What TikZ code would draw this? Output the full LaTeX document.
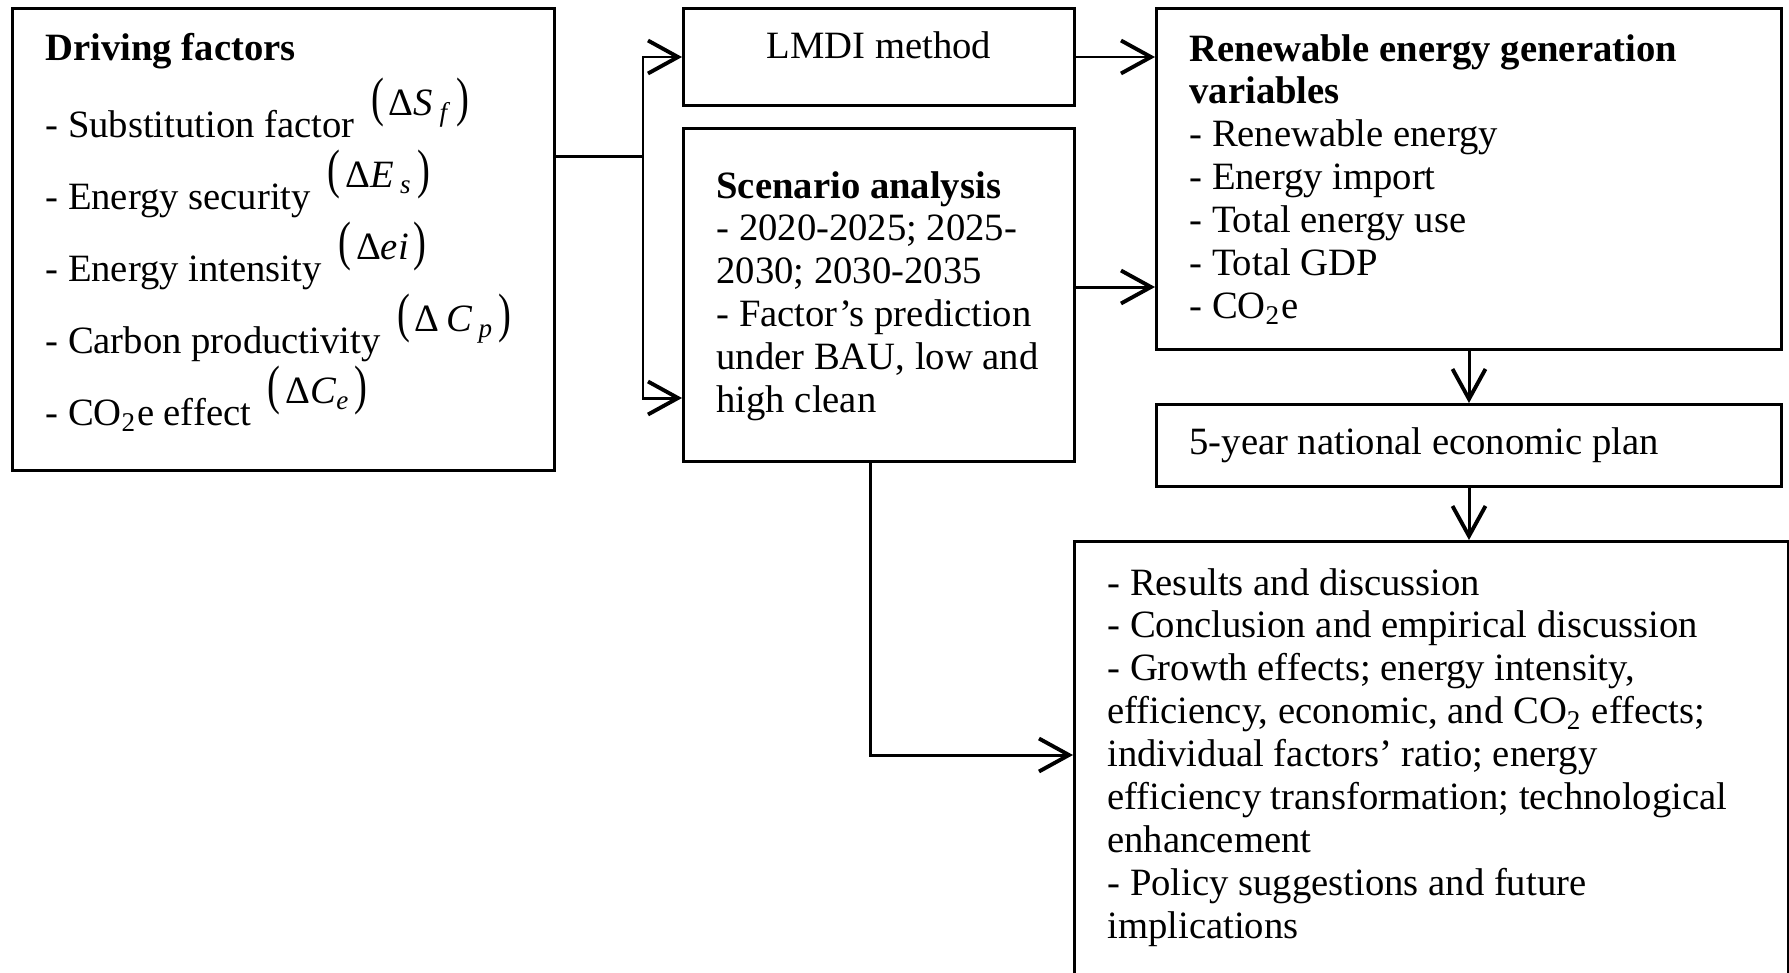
\documentclass[tikz,border=0pt]{standalone}
\usepackage{fontspec}
\setmainfont{Liberation Serif}
\usepackage{graphicx}
\usetikzlibrary{arrows.meta}
\newcommand{\dterm}[1]{\hspace{2pt}\raisebox{0.55em}{\scalebox{1}[1.4]{(}\kern0.12em#1\kern0.12em\scalebox{1}[1.4]{)}}}
\newcommand{\boxtext}[4]{\parbox[t][#2][t]{#1}{\leftskip=0.33cm\rightskip=0pt plus 1fil\vspace*{#3}\strut#4}}

\begin{document}
\begin{tikzpicture}[
    box/.style={draw, line width=0.85pt, anchor=north west, inner sep=0pt,
      font=\fontsize{11}{12.2}\selectfont},
    arr/.style={line width=0.85pt, -{Straight Barb[length=3mm,width=3.3mm,line width=1.1pt]}}]
  \useasboundingbox (0,0) rectangle (17.89,-9.72);
  \clip (0,0) rectangle (17.89,-9.72);
  % boxes
  \node[box] (drv) at (0.11,-0.07) {\boxtext{5.42cm}{4.62cm}{0.215cm}{\baselineskip=20.5pt
      \textbf{Driving factors}\\[0.5mm]
      - Substitution factor \dterm{Δ\textit{S}\,\textsubscript{\textit{f}}}\\
      - Energy security \dterm{Δ\textit{E}\,\textsubscript{\textit{s}}}\\
      - Energy intensity \dterm{Δ\textit{ei}}\\
      - Carbon productivity \dterm{Δ\,\textit{C}\,\textsubscript{\textit{p}}}\\
      - CO\textsubscript{2}e effect \dterm{Δ\textit{C}\textsubscript{\textit{e}}}}};
  \node[box] (lmdi) at (6.82,-0.07) {\parbox[t][0.97cm][t]{3.91cm}{\centering\vspace*{0.195cm}\strut LMDI method}};
  \node[box] (scen) at (6.82,-1.27) {\boxtext{3.91cm}{3.33cm}{0.395cm}{\textbf{Scenario analysis}\\
      - 2020-2025; 2025-\\
      2030; 2030-2035\\
      - Factor’s prediction\\
      under BAU, low and\\
      high clean}};
  \node[box] (ren) at (11.55,-0.07) {\boxtext{6.25cm}{3.41cm}{0.225cm}{\textbf{Renewable energy generation}\\
      \textbf{variables}\\
      - Renewable energy\\
      - Energy import\\
      - Total energy use\\
      - Total GDP\\
      - CO\textsubscript{2}e}};
  \node[box] (plan) at (11.55,-4.03) {\boxtext{6.25cm}{0.82cm}{0.195cm}{5-year national economic plan}};
  \node[box] (res) at (10.73,-5.40) {\boxtext{7.14cm}{4.6cm}{0.235cm}{- Results and discussion\\
      - Conclusion and empirical discussion\\
      - Growth effects; energy intensity,\\
      efficiency, economic, and CO\textsubscript{2} effects;\\
      individual factors’ ratio; energy\\
      efficiency transformation; technological\\
      enhancement\\
      - Policy suggestions and future\\
      implications}};
  % connectors
  \coordinate (fork) at (6.43,-1.56);
  \coordinate (forkend) at (6.43,-3.98);
  \coordinate (turn) at (8.70,-7.55);
  \draw[line width=0.85pt] (fork -| drv.east) -- (fork);
  \draw[arr] (fork) |- (lmdi.west);
  \draw[arr] (fork) -- (forkend) -- (forkend -| scen.west);
  \draw[arr] (lmdi.east) -- (lmdi.east -| ren.west);
  \draw[arr] ([yshift=0.08cm]scen.east) -- ([yshift=0.08cm]scen.east -| ren.west);
  \draw[arr] (ren.south) -- (plan.north);
  \draw[arr] (plan.south) -- (plan.south |- res.north);
  \draw[arr] (scen.south -| turn) -- (turn) -- (turn -| res.west);
\end{tikzpicture}
\end{document}
